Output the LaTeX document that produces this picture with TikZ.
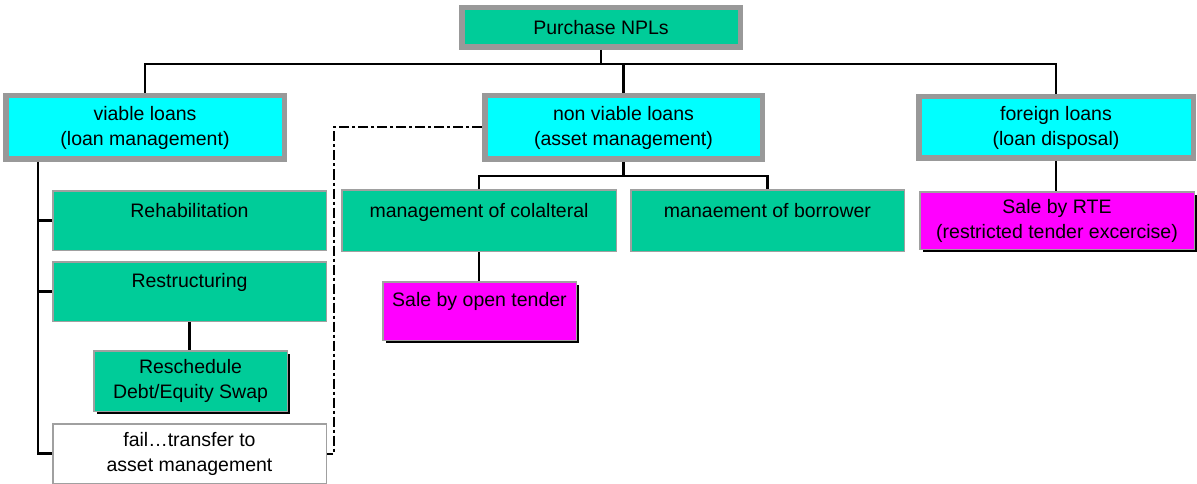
\documentclass[tikz,border=0pt]{standalone}
\usepackage{fontspec}
\setmainfont{Liberation Sans}
\usetikzlibrary{shadows}
\definecolor{boxgreen}{HTML}{00CC99}
\definecolor{boxcyan}{HTML}{00FFFF}
\definecolor{boxmagenta}{HTML}{FF00FF}
\definecolor{rimgray}{HTML}{999999}
\definecolor{edgegray}{HTML}{A0A0A0}

\begin{document}
\begin{tikzpicture}[x=1pt,y=-1pt,
  every node/.style={font=\fontsize{19.5}{25}\selectfont, inner sep=0pt},
  heavybox/.style={draw=rimgray, line width=5.5pt, align=center},
  head/.style={heavybox, fill=boxgreen},
  group/.style={heavybox, fill=boxcyan},
  task/.style={draw=edgegray, line width=1.5pt, fill=boxgreen},
  shade/.style={general shadow={shadow xshift=3pt, shadow yshift=-3pt, fill=black}},
  sale/.style={task, fill=boxmagenta, shade},
  note/.style={draw=edgegray, line width=1.5pt, fill=white, align=center},
  link/.style={line width=2.5pt, black},
  transfer/.style={line width=2pt, black, dash pattern=on 10pt off 3pt on 3pt off 3pt}
]
\useasboundingbox (0,0) rectangle (1197,484);

% top of the tree
\node[head, minimum width=278.5, minimum height=39.5] (purchase) at (601,27.5) {Purchase NPLs};

% the three loan groups
\node[group, minimum width=278.5, minimum height=63.5] (viable) at (145,127.5) {viable loans\\(loan management)};
\node[group, minimum width=277.5, minimum height=63.5] (nonviable) at (623.5,127.5) {non viable loans\\(asset management)};
\node[group, minimum width=274.5, minimum height=61.5] (foreign) at (1056,127.5) {foreign loans\\(loan disposal)};

% loan management branch
\node[task, minimum width=273.5, text height=26.25, text depth=33.25, anchor=base] (rehab) at (189.5,217) {Rehabilitation};
\node[task, minimum width=273.5, text height=25.25, text depth=34.25, anchor=base] (restr) at (189.5,287) {Restructuring};
\node[task, shade, align=center, minimum width=193.5, minimum height=60.5] (resched) at (190.5,381) {Reschedule\\Debt/Equity Swap};
\node[note, minimum width=273.5, minimum height=59.5] (fail) at (189.5,453.5) {fail…transfer to\\asset management};

% asset management branch
\node[task, minimum width=274.5, text height=27.25, text depth=34.25, anchor=base] (colat) at (479,217) {management of colalteral};
\node[task, minimum width=273.5, text height=27.25, text depth=34.25, anchor=base] (manae) at (767.5,217) {manaement of borrower};
\node[sale, minimum width=193.5, text height=24.25, text depth=34.25, anchor=base] (saleopen) at (479.5,306) {Sale by open tender};

% loan disposal branch
\node[sale, align=center, minimum width=274.5, minimum height=57.5] (salerte) at (1057,220.5) {Sale by RTE\\(restricted tender excercise)};

% helper levels for the connectors
\coordinate (bus) at (0,64);
\coordinate (trunk) at (38,0);
\coordinate (split) at (0,176);
\coordinate (jog) at (334,0);

\draw[link] (purchase.south) -- (purchase.south |- bus);
\draw[link] (viable.north) -- (viable.north |- bus) -- (foreign.north |- bus) -- (foreign.north);
\draw[link] (nonviable.north) -- (nonviable.north |- bus);

\draw[link] (viable.south -| trunk) |- (fail.west);
\draw[link] (rehab.west -| trunk) -- (rehab.west);
\draw[link] (restr.west -| trunk) -- (restr.west);
\draw[link] (restr.south) -- (restr.south |- resched.north);

\draw[link] (nonviable.south) -- (nonviable.south |- split);
\draw[link] (colat.north) -- (colat.north |- split) -- (manae.north |- split) -- (manae.north);
\draw[link] (colat.south) -- (colat.south |- saleopen.north);

\draw[link] (foreign.south) -- (foreign.south |- salerte.north);

\draw[transfer] (nonviable.west) -| (jog |- fail.east) -- (fail.east);
\end{tikzpicture}
\end{document}
